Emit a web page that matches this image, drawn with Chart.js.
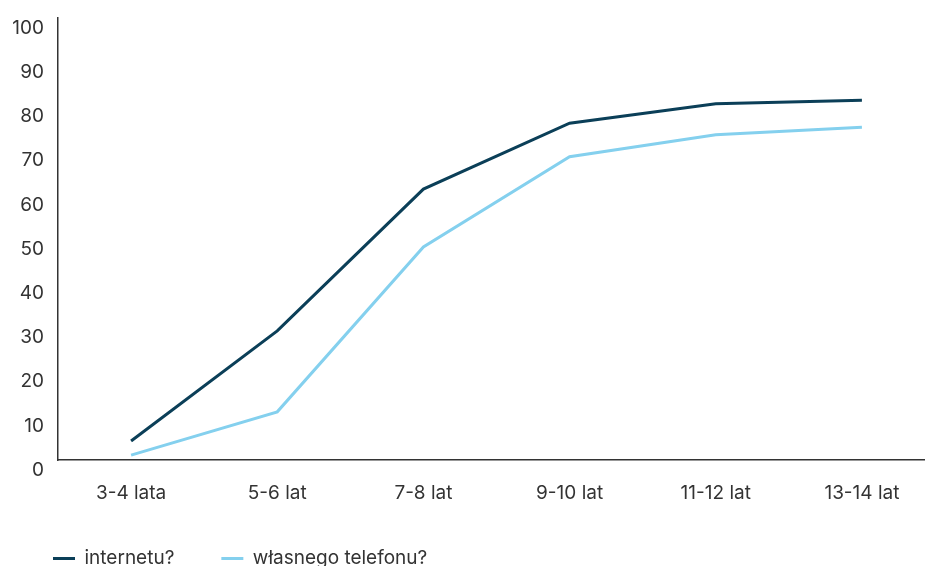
<!DOCTYPE html>
<html>
<head>
<meta charset="utf-8">
<script src="https://cdn.jsdelivr.net/npm/chart.js@4"></script>
<style>
  html, body { margin: 0; padding: 0; background: #fff; overflow: hidden; width: 925px; height: 566px; }
  #wrap { width: 935px; height: 566px; }
</style>
</head>
<body>
<div id="wrap"><canvas id="c" width="935" height="566"></canvas></div>
<script>
const categories = ['3-4 lata', '5-6 lat', '7-8 lat', '9-10 lat', '11-12 lat', '13-14 lat'];
const seriesNames = ['internetu?', 'własnego telefonu?'];
const internetValues = [4.3, 29.2, 61.3, 76.2, 80.6, 81.4];
const phoneValues = [1.1, 10.9, 48.2, 68.6, 73.6, 75.3];
const yTicks = [0, 10, 20, 30, 40, 50, 60, 70, 80, 90, 100];

const FONT = 'Inter, "Open Sans", sans-serif';
const TEXT = '#333333';

const legendHeightPlugin = {
  id: 'legendHeight',
  beforeInit(chart) {
    const orig = chart.legend.fit;
    chart.legend.fit = function () {
      orig.call(this);
      this.height = 64;
    };
  }
};

new Chart(document.getElementById('c'), {
  type: 'line',
  data: {
    labels: categories,
    datasets: [
      { label: seriesNames[0], data: internetValues, borderColor: '#0b3f58', backgroundColor: '#0b3f58', borderWidth: 3, pointRadius: 0, tension: 0 },
      { label: seriesNames[1], data: phoneValues, borderColor: '#84d0ee', backgroundColor: '#84d0ee', borderWidth: 3, pointRadius: 0, tension: 0 }
    ]
  },
  options: {
    responsive: false,
    animation: false,
    layout: { padding: { top: 18, left: 6, right: 0, bottom: 0 } },
    plugins: {
      tooltip: { enabled: false },
      legend: {
        position: 'bottom',
        align: 'start',
        labels: {
          usePointStyle: true,
          pointStyle: 'line',
          pointStyleWidth: 22,
          boxHeight: 19,
          padding: 47,
          color: TEXT,
          font: { family: FONT, size: 19 }
        }
      }
    },
    scales: {
      x: {
        offset: true,
        grid: { display: false, drawTicks: false },
        border: { display: true, color: '#333333', width: 1.5 },
        ticks: { color: TEXT, padding: 22, font: { family: FONT, size: 19 }, maxRotation: 0 },
        afterFit(s) { s.height = 42; s.paddingLeft = 0; s.paddingRight = 0; }
      },
      y: {
        min: 0,
        max: 100,
        afterBuildTicks(s) { s.ticks = yTicks.map(v => ({ value: v })); },
        grid: { display: false, drawTicks: false },
        border: { display: true, color: '#333333', width: 1.5 },
        ticks: { color: TEXT, padding: 14, labelOffset: 10, font: { family: FONT, size: 19 } },
        afterFit(s) { s.width = 52; s.paddingTop = 0; s.paddingBottom = 0; }
      }
    }
  },
  plugins: [legendHeightPlugin]
});
</script>
</body>
</html>
